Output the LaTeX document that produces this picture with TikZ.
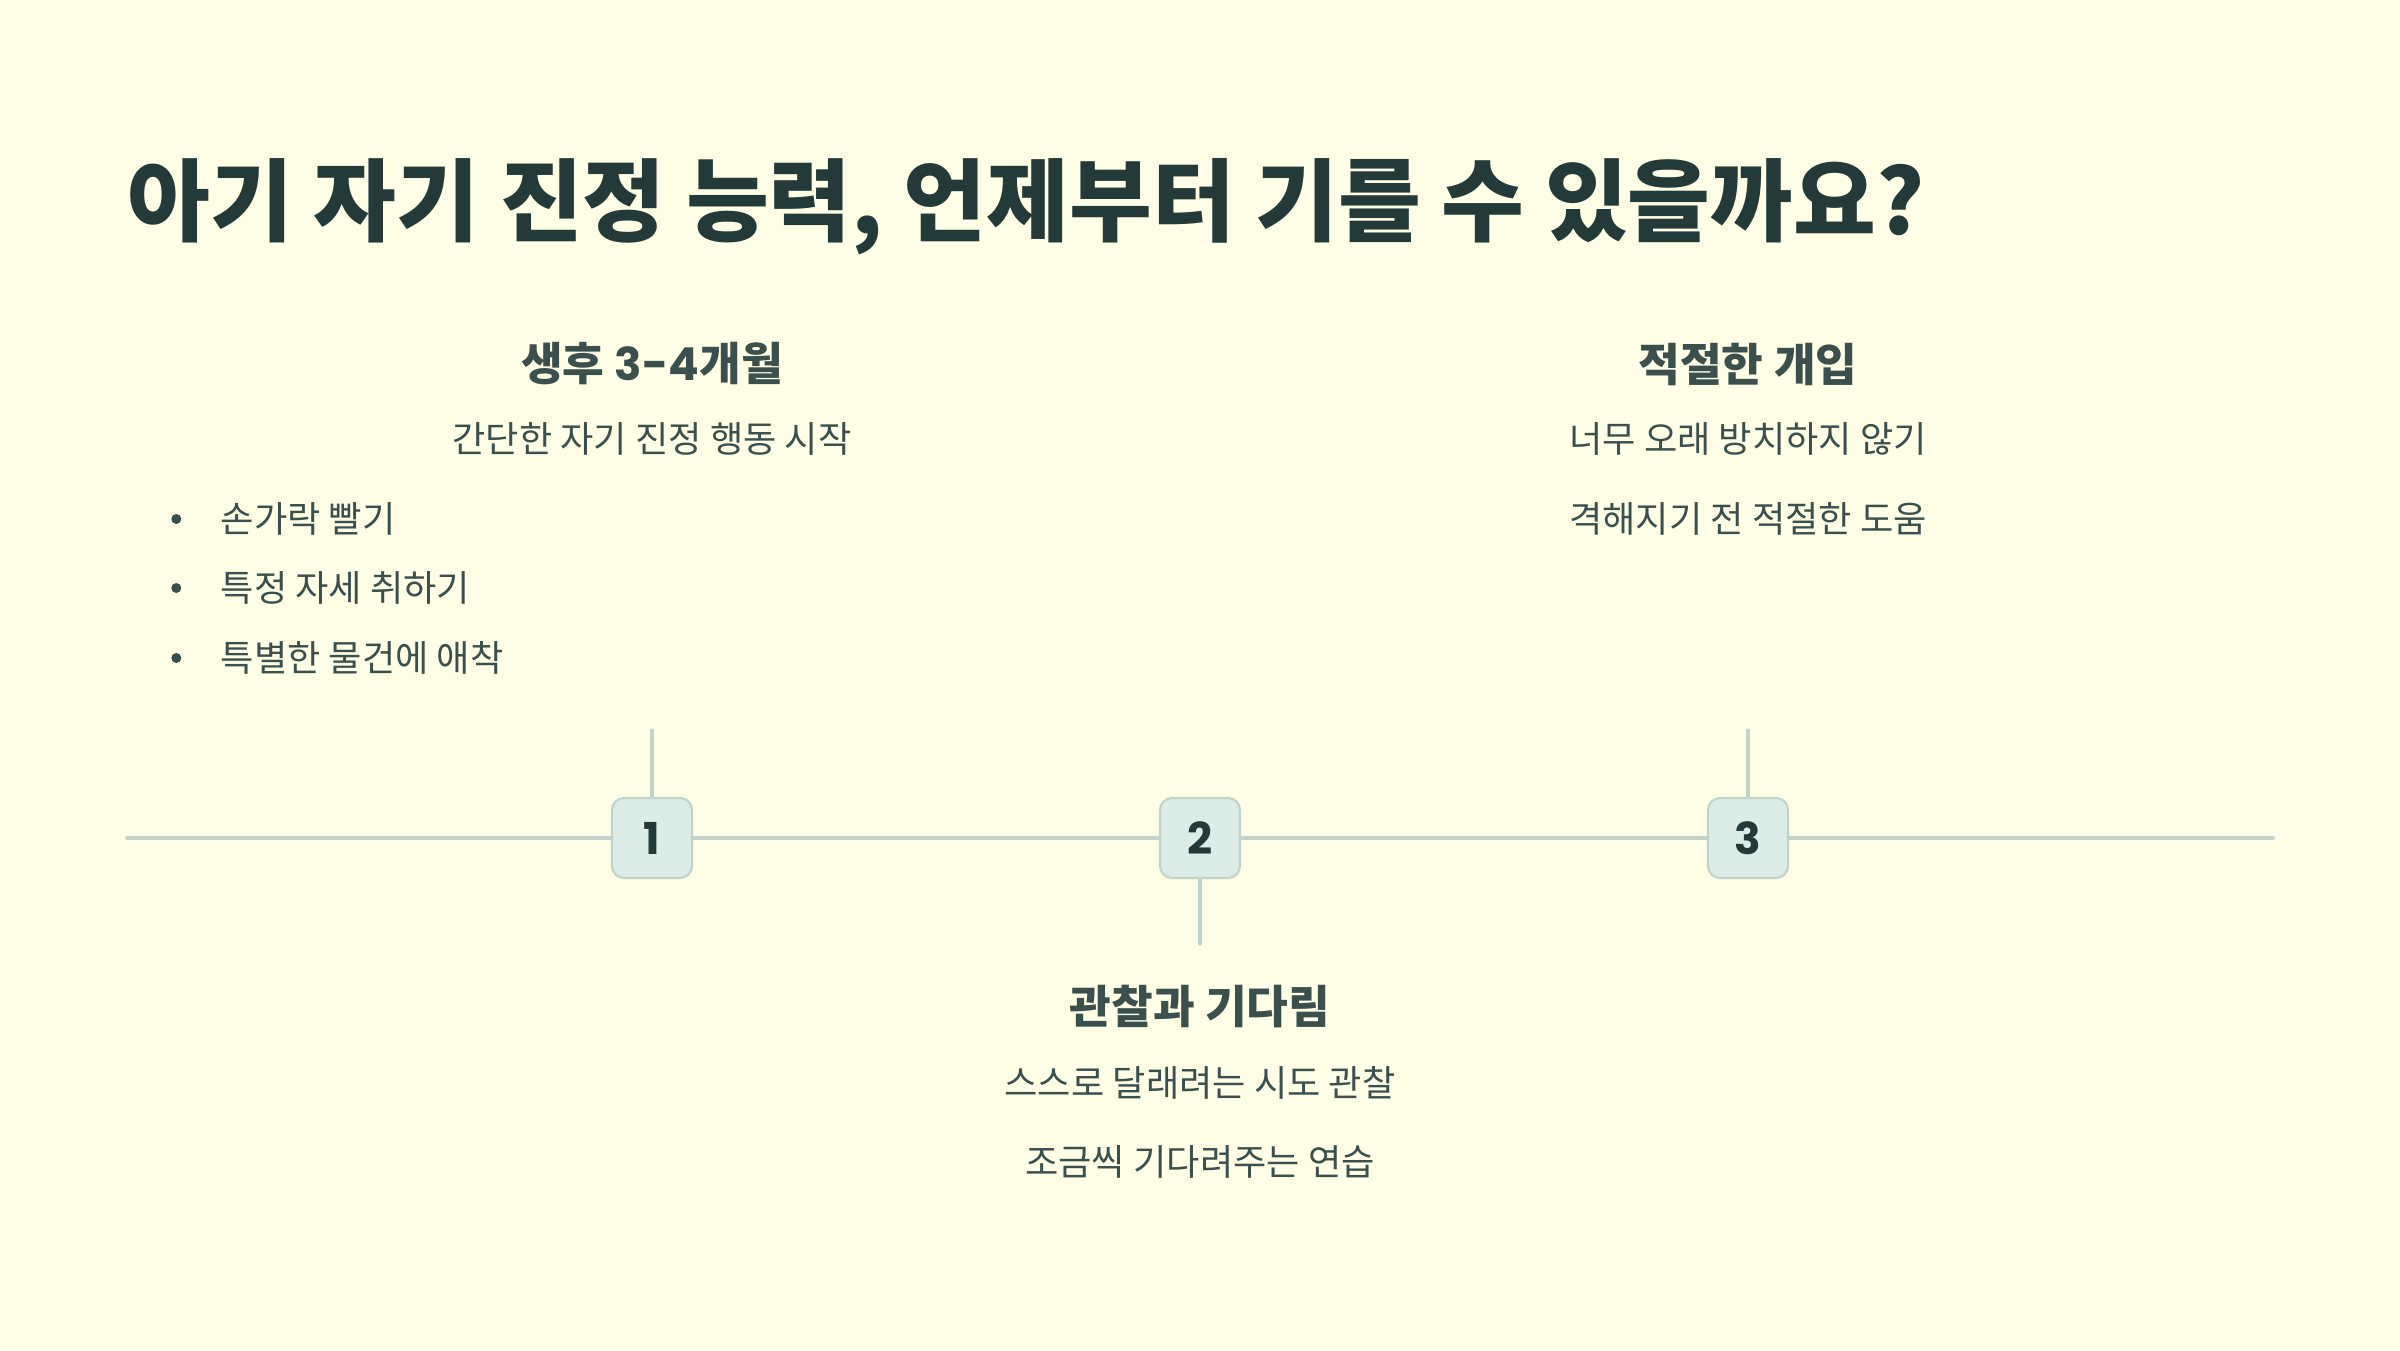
\documentclass[tikz,border=0pt]{standalone}
\usepackage{fontspec}
\setmainfont{Noto Sans CJK KR}
\newfontfamily\numfont{Poppins}
\usepackage{xcolor}
\usetikzlibrary{positioning}
\definecolor{PageColor}{RGB}{254,253,230}
\definecolor{TitleColor}{RGB}{36,58,56}
\definecolor{TextColor}{RGB}{59,79,77}
\definecolor{RailColor}{RGB}{194,211,203}
\definecolor{BoxColor}{RGB}{219,237,230}
\tikzset{
    rail/.style={draw=RailColor, line width=1.05pt, line cap=round},
    stem/.style={draw=RailColor, line width=0.9pt, line cap=round},
    stepnum/.style={
        shape=rectangle,
        rounded corners=0.12cm,
        draw=RailColor,
        line width=0.6pt,
        fill=BoxColor,
        minimum width=0.8cm,
        minimum height=0.8cm,
        inner sep=0pt,
        text=TitleColor,
        font=\numfont\bfseries\fontsize{12.5}{12.5}\selectfont
    },
    heading/.style={font=\bfseries\fontsize{12.9}{15}\selectfont, text=TextColor, inner sep=0pt, minimum height=0.6cm},
    subtext/.style={font=\fontsize{10.3}{13}\selectfont, text=TextColor, inner sep=0pt, minimum height=0.5cm},
    dotmark/.style={shape=circle, fill=TextColor, inner sep=0pt, minimum size=0.1cm}
}

\begin{document}
\begin{tikzpicture}

% Background
\fill[PageColor] (0,0) rectangle (24,13.5);
\useasboundingbox (0,0) rectangle (24,13.5);

% Title
\node[anchor=west, inner sep=0pt, text=TitleColor, font=\bfseries\fontsize{25.6}{30}\selectfont] (title) at (1.27, 11.43) {아기 자기 진정 능력, 언제부터 기를 수 있을까요?};

% Timeline
\coordinate (railL) at (1.27, 5.12);
\coordinate (railR) at (22.73, 5.12);

\node[stepnum] (n1) at (6.52, 5.12) {1};
\node[stepnum] (n2) at (12.00, 5.12) {2};
\node[stepnum] (n3) at (17.48, 5.12) {3};

\draw[rail] (railL) -- (n1.west);
\draw[rail] (n1.east) -- (n2.west);
\draw[rail] (n2.east) -- (n3.west);
\draw[rail] (n3.east) -- (railR);

\coordinate (n1top) at (6.52, 6.20);
\coordinate (n2bot) at (12.00, 4.06);
\coordinate (n3top) at (17.48, 6.20);

\draw[stem] (n1.north) -- (n1top);
\draw[stem] (n2.south) -- (n2bot);
\draw[stem] (n3.north) -- (n3top);

% Step 1
\node[heading] (h1) at (6.52, 9.86) {생후 {\numfont 3-4}개월};
\node[subtext, below=0.19cm of h1] (s1) {간단한 자기 진정 행동 시작};

\node[subtext, anchor=west] (b1) at (2.20, 8.31) {손가락 빨기};
\node[subtext, anchor=west] (b2) at (2.20, 7.62) {특정 자세 취하기};
\node[subtext, anchor=west] (b3) at (2.20, 6.92) {특별한 물건에 애착};
\node[dotmark, left=0.38cm of b1] (d1) {};
\node[dotmark, left=0.38cm of b2] (d2) {};
\node[dotmark, left=0.38cm of b3] (d3) {};

% Step 2
\node[heading] (h2) at (12.00, 3.43) {관찰과 기다림};
\node[subtext, below=0.19cm of h2] (s2a) {스스로 달래려는 시도 관찰};
\node[subtext, below=0.28cm of s2a] (s2b) {조금씩 기다려주는 연습};

% Step 3
\node[heading] (h3) at (17.48, 9.86) {적절한 개입};
\node[subtext, below=0.19cm of h3] (s3a) {너무 오래 방치하지 않기};
\node[subtext, below=0.28cm of s3a] (s3b) {격해지기 전 적절한 도움};

\end{tikzpicture}
\end{document}
